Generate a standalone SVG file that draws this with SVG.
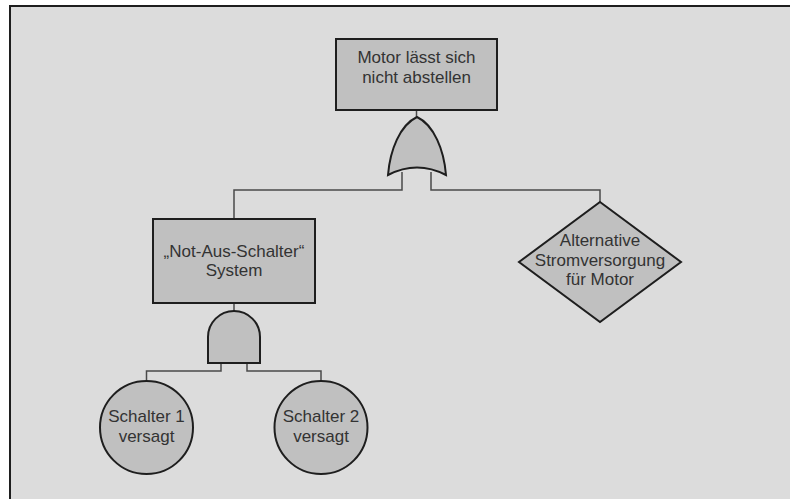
<svg xmlns="http://www.w3.org/2000/svg" width="790" height="499" viewBox="0 0 790 499">
<style>
.node{fill:#c0c0c0;stroke:#1e1e1e;stroke-width:2}
.conn{fill:none;stroke:#4a4a4a;stroke-width:1.5}
text{font-family:"Liberation Sans",Arial,sans-serif;font-size:17px;fill:#333;text-anchor:middle}
</style>
<rect x="0" y="0" width="790" height="499" fill="#ffffff"/>
<rect x="10" y="6" width="790" height="500" fill="#dcdcdc" stroke="#1e1e1e" stroke-width="2"/>
<g id="connectors">
<path class="conn" d="M416.5 110 V117"/>
<path class="conn" d="M402 172 V190 H234 V219"/>
<path class="conn" d="M431 172 V190 H600 V202"/>
<path class="conn" d="M234 303 V311"/>
<path class="conn" d="M221 363 V371 H146.5 V381"/>
<path class="conn" d="M247 363 V371 H321 V381"/>
</g>
<g id="top">
<rect class="node" x="336" y="39" width="161" height="71"/>
<text x="416.5" y="63">Motor lässt sich</text>
<text x="416.5" y="83">nicht abstellen</text>
</g>
<g id="or-gate">
<path class="node" d="M417 117 C400 125 390 150 388 175 Q417 160 446 175 C444 150 434 125 417 117 Z"/>
</g>
<g id="notaus">
<rect class="node" x="153" y="219" width="162" height="84"/>
<text x="234" y="257">„Not-Aus-Schalter“</text>
<text x="234" y="276">System</text>
</g>
<g id="and-gate">
<path class="node" d="M208 363 V337 A26 26 0 0 1 260 337 V363 Z"/>
</g>
<g id="alt">
<polygon class="node" points="600,202 681,262 600,322 519,262"/>
<text x="600" y="246">Alternative</text>
<text x="600" y="265.5">Stromversorgung</text>
<text x="600" y="285">für Motor</text>
</g>
<g id="s1">
<circle class="node" cx="146.5" cy="427.5" r="46.5"/>
<text x="146.5" y="422">Schalter 1</text>
<text x="146.5" y="442">versagt</text>
</g>
<g id="s2">
<circle class="node" cx="321" cy="427.5" r="46.5"/>
<text x="321" y="422">Schalter 2</text>
<text x="321" y="442">versagt</text>
</g>
</svg>
